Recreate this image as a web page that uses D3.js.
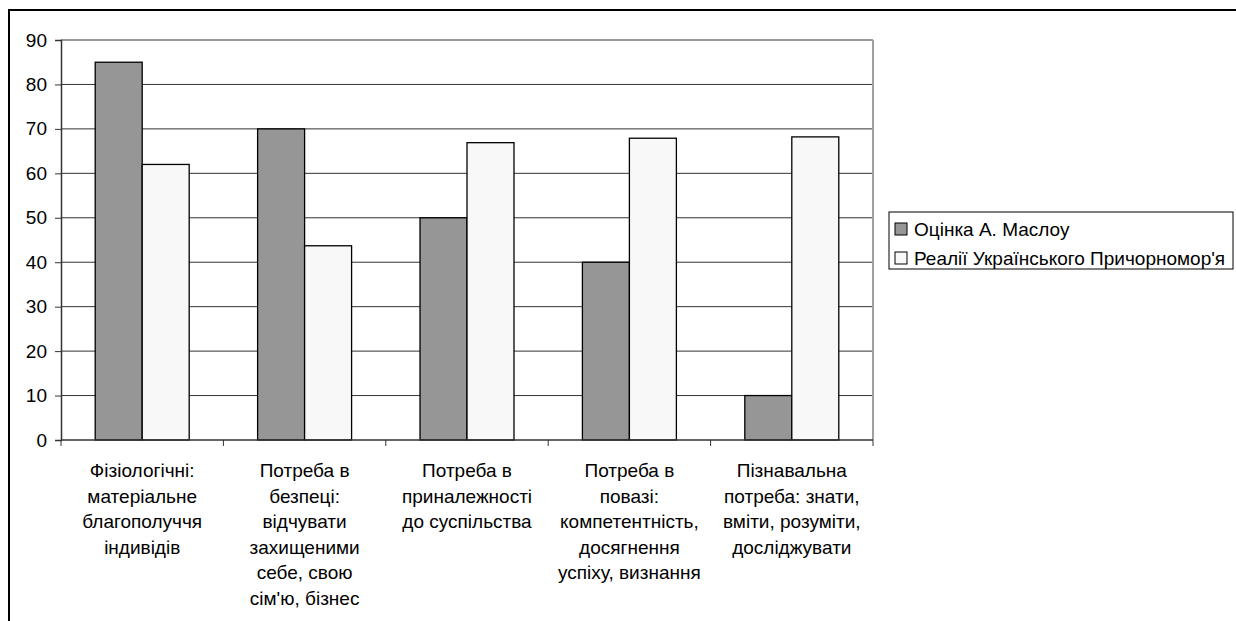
<!DOCTYPE html>
<html>
<head>
<meta charset="UTF-8">
<title>Maslow chart</title>
<script src="https://cdn.jsdelivr.net/npm/d3@7"></script>
<style>
  body { margin: 0; background: #fff; }
  text { font-family: "Liberation Sans", Arial, sans-serif; fill: #000; }
</style>
</head>
<body>
<script>
// data
var categories = ["Фізіологічні", "Безпека", "Приналежність", "Повага", "Пізнання"];
var categoryLines = [
  ["Фізіологічні:", "матеріальне", "благополуччя", "індивідів"],
  ["Потреба в", "безпеці:", "відчувати", "захищеними", "себе, свою", "сім'ю, бізнес"],
  ["Потреба в", "приналежності", "до суспільства"],
  ["Потреба в", "повазі:", "компетентність,", "досягнення", "успіху, визнання"],
  ["Пізнавальна", "потреба: знати,", "вміти, розуміти,", "досліджувати"]
];
var seriesNames = ["Оцінка А. Маслоу", "Реалії Українського Причорномор'я"];
var maslow = [85, 70, 50, 40, 10];
var realii = [62, 43.7, 66.9, 67.9, 68.2];
var yTicks = [0, 10, 20, 30, 40, 50, 60, 70, 80, 90];
var colors = ["#969696", "#f8f8f8"];

var W = 1236, H = 621;
var plotL = 61, plotR = 873, plotT = 40, plotB = 440;
var fontSize = "19px";

var svg = d3.select("body").append("svg").attr("width", W).attr("height", H);

// outer chart frame (runs off the right and bottom edges)
svg.append("rect")
   .attr("x", 9).attr("y", 10).attr("width", 1300).attr("height", 700)
   .attr("fill", "#fff").attr("stroke", "#000").attr("stroke-width", 2);

var y = d3.scaleLinear().domain([0, 90]).range([plotB, plotT]);
var x0 = d3.scaleBand().domain(categories).range([plotL, plotR]).padding(0);
var x1 = d3.scaleBand().domain(seriesNames).range([0, x0.bandwidth()])
           .paddingInner(0).paddingOuter(0.728);

// gridlines
svg.append("g").selectAll("line").data(yTicks.filter(function(d){ return d > 0; }))
   .enter().append("line")
   .attr("x1", plotL).attr("x2", plotR)
   .attr("y1", function(d){ return y(d); }).attr("y2", function(d){ return y(d); })
   .attr("stroke", "#333").attr("stroke-width", 1);

// plot border on the right
svg.append("line").attr("x1", plotR).attr("x2", plotR).attr("y1", plotT).attr("y2", plotB)
   .attr("stroke", "#a0a0a0").attr("stroke-width", 2);

// bars
var rows = categories.map(function(c, i){ return [maslow[i], realii[i]]; });
var groups = svg.append("g").selectAll("g").data(rows).enter().append("g")
   .attr("transform", function(d, i){ return "translate(" + x0(categories[i]) + ",0)"; });
groups.selectAll("rect").data(function(d){ return d; }).enter().append("rect")
   .attr("x", function(d, j){ return x1(seriesNames[j]); })
   .attr("y", function(d){ return y(d); })
   .attr("width", x1.bandwidth())
   .attr("height", function(d){ return plotB - y(d); })
   .attr("fill", function(d, j){ return colors[j]; })
   .attr("stroke", "#000").attr("stroke-width", 1.3);

// y axis
var yAxis = svg.append("g").attr("transform", "translate(" + plotL + ",0)")
   .call(d3.axisLeft(y).tickValues(yTicks).tickSize(6).tickPadding(8));
yAxis.select(".domain").attr("stroke", "#333").attr("stroke-width", 1.5);
yAxis.selectAll(".tick line").attr("stroke", "#333");
yAxis.selectAll(".tick text").style("font-size", fontSize)
     .style("font-family", "'Liberation Sans', Arial, sans-serif").attr("fill", "#000");

// x axis line + category ticks
var xAxis = svg.append("g").attr("transform", "translate(0," + plotB + ")");
xAxis.append("line").attr("x1", plotL).attr("x2", plotR).attr("y1", 0).attr("y2", 0)
     .attr("stroke", "#333").attr("stroke-width", 1.5);
var bounds = categories.map(function(c){ return x0(c); }).concat([plotR]);
xAxis.selectAll("line.tk").data(bounds).enter().append("line").attr("class", "tk")
     .attr("x1", function(d){ return d; }).attr("x2", function(d){ return d; })
     .attr("y1", 0).attr("y2", 6).attr("stroke", "#333").attr("stroke-width", 1);

// category labels
var labels = svg.append("g").selectAll("text").data(categoryLines).enter().append("text")
   .attr("text-anchor", "middle").style("font-size", fontSize)
   .attr("transform", function(d, i){
     return "translate(" + (x0(categories[i]) + x0.bandwidth() / 2) + ",477)";
   });
labels.selectAll("tspan").data(function(d){ return d; }).enter().append("tspan")
   .attr("x", 0).attr("y", function(d, k){ return k * 25.5; })
   .text(function(d){ return d; });

// legend
var lg = svg.append("g");
lg.append("rect").attr("x", 889).attr("y", 212).attr("width", 344).attr("height", 57)
  .attr("fill", "#fff").attr("stroke", "#000").attr("stroke-width", 1);
var items = lg.selectAll("g").data(seriesNames).enter().append("g")
  .attr("transform", function(d, i){ return "translate(895," + (229 + i * 29) + ")"; });
items.append("rect").attr("x", 0).attr("y", -6).attr("width", 12).attr("height", 12)
  .attr("fill", function(d, i){ return colors[i]; }).attr("stroke", "#000").attr("stroke-width", 1);
items.append("text").attr("x", 19).attr("y", 7).style("font-size", fontSize)
  .text(function(d){ return d; });
</script>
</body>
</html>
